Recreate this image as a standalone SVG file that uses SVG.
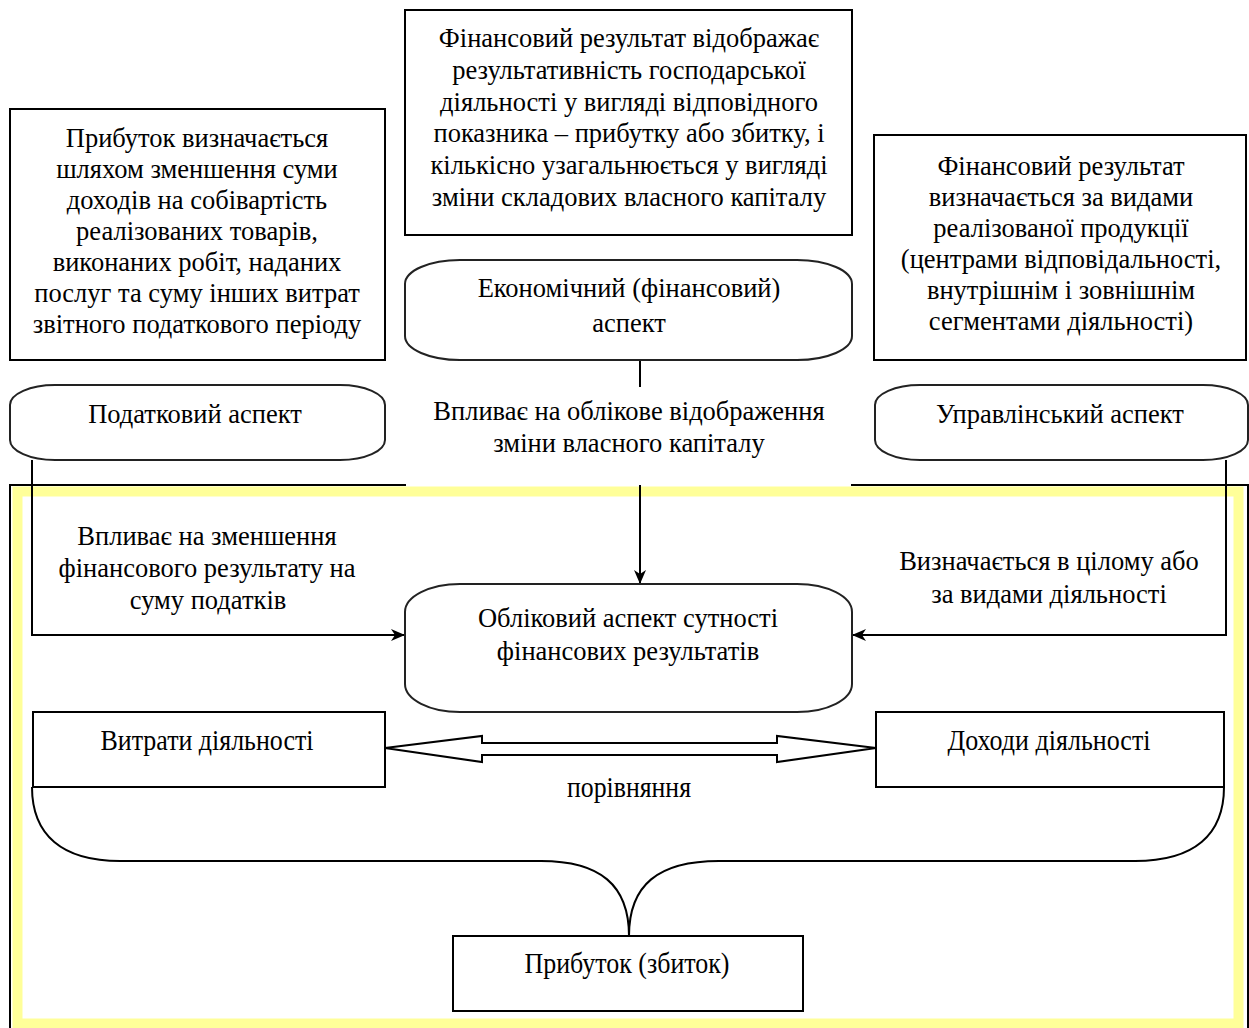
<svg xmlns="http://www.w3.org/2000/svg" width="1249" height="1028" viewBox="0 0 1249 1028">
<style>
.box{fill:#fff;stroke:#000;stroke-width:2}
.rnd{fill:#fff;stroke:#222;stroke-width:2}
.ln{fill:none;stroke:#000;stroke-width:2}
</style>
<defs>
<marker id="ah" markerWidth="14" markerHeight="12" refX="13" refY="6" orient="auto" markerUnits="userSpaceOnUse">
<path d="M0,0 L14,6 L0,12 L4,6 Z" fill="#000"/>
</marker>
</defs>
<rect x="0" y="0" width="1249" height="1028" fill="#fff"/>
<g id="frame">
<rect x="17.5" y="491.5" width="1221" height="532" fill="none" stroke="#ffff99" stroke-width="10"/>
<path d="M406,485 H10 V1028 M851,485 H1248 V1028" fill="none" stroke="#000" stroke-width="2"/>
</g>
<g id="connectors">
<line class="ln" x1="640" y1="360" x2="640" y2="387"/>
<line class="ln" x1="640" y1="485" x2="640" y2="583" marker-end="url(#ah)"/>
<path class="ln" d="M32,460 V635 H404" marker-end="url(#ah)"/>
<path class="ln" d="M1226,460 V635 H853" marker-end="url(#ah)"/>
<path class="ln" d="M32,787 C32,835 62,861 120,861 H541 C600,861 629,885 629,936"/>
<path class="ln" d="M1224,787 C1224,835 1194,861 1135,861 H719 C658,861 629,885 629,936"/>
<polygon points="385,748 482,736 482,743 777,743 777,736 876,748 777,762 777,755 482,755 482,762" fill="#fff" stroke="#000" stroke-width="2"/>
</g>
<g font-family="Liberation Serif" font-size="26.5" text-anchor="middle" fill="#000">
<g id="n-top-left">
<rect class="box" x="10" y="109" width="375" height="251"/>
<text x="197" y="147">Прибуток визначається</text>
<text x="197" y="178">шляхом зменшення суми</text>
<text x="197" y="209">доходів на собівартість</text>
<text x="197" y="240">реалізованих товарів,</text>
<text x="197" y="271">виконаних робіт, наданих</text>
<text x="197" y="302">послуг та суму інших витрат</text>
<text x="197" y="333">звітного податкового періоду</text>
</g>
<g id="n-top-center">
<rect class="box" x="405" y="10" width="447" height="225"/>
<text x="629" y="47">Фінансовий результат відображає</text>
<text x="629" y="79">результативність господарської</text>
<text x="629" y="111">діяльності у вигляді відповідного</text>
<text x="629" y="142">показника – прибутку або збитку, і</text>
<text x="629" y="174">кількісно узагальнюється у вигляді</text>
<text x="629" y="206">зміни складових власного капіталу</text>
</g>
<g id="n-top-right">
<rect class="box" x="874" y="135" width="372" height="225"/>
<text x="1061" y="175">Фінансовий результат</text>
<text x="1061" y="206">визначається за видами</text>
<text x="1061" y="237">реалізованої продукції</text>
<text x="1061" y="268">(центрами відповідальності,</text>
<text x="1061" y="299">внутрішнім і зовнішнім</text>
<text x="1061" y="330">сегментами діяльності)</text>
</g>
<g id="n-econ">
<rect class="rnd" x="405" y="260" width="447" height="100" rx="55" ry="24"/>
<text x="629" y="297">Економічний (фінансовий)</text>
<text x="629" y="332">аспект</text>
</g>
<g id="n-tax">
<rect class="rnd" x="10" y="385" width="375" height="75" rx="45" ry="20"/>
<text x="195" y="423">Податковий аспект</text>
</g>
<g id="n-mgmt">
<rect class="rnd" x="875" y="385" width="373" height="75" rx="45" ry="20"/>
<text x="1060" y="423">Управлінський аспект</text>
</g>
<g id="l-econ">
<text x="629" y="420">Впливає на облікове відображення</text>
<text x="629" y="452">зміни власного капіталу</text>
</g>
<g id="l-tax">
<text x="207" y="545">Впливає на зменшення</text>
<text x="207" y="577">фінансового результату на</text>
<text x="208" y="609">суму податків</text>
</g>
<g id="l-mgmt">
<text x="1049" y="570">Визначається в цілому або</text>
<text x="1049" y="603">за видами діяльності</text>
</g>
<g id="n-account">
<rect class="rnd" x="405" y="584" width="447" height="128" rx="55" ry="28"/>
<text x="628" y="627">Обліковий аспект сутності</text>
<text x="628" y="660">фінансових результатів</text>
</g>
<g id="n-costs">
<rect class="box" x="33" y="712" width="352" height="75"/>
<text x="207" y="750" font-size="29" textLength="213" lengthAdjust="spacingAndGlyphs">Витрати діяльності</text>
</g>
<g id="n-income">
<rect class="box" x="876" y="712" width="348" height="75"/>
<text x="1049" y="750" font-size="29" textLength="203" lengthAdjust="spacingAndGlyphs">Доходи діяльності</text>
</g>
<g id="l-compare">
<text x="629" y="797" font-size="29" textLength="124" lengthAdjust="spacingAndGlyphs">порівняння</text>
</g>
<g id="n-profit">
<rect class="box" x="453" y="936" width="350" height="75"/>
<text x="627" y="973" font-size="29" textLength="205" lengthAdjust="spacingAndGlyphs">Прибуток (збиток)</text>
</g>
</g>
</svg>
